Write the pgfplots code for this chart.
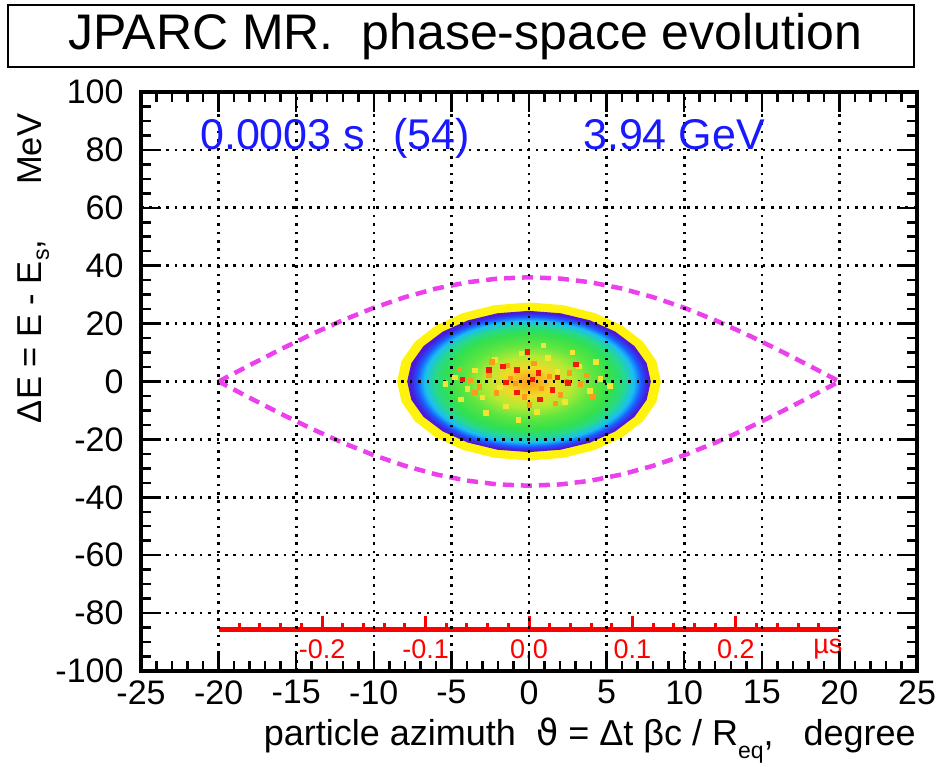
\documentclass[border=0pt]{standalone}
\usepackage{pgfplots}
\pgfplotsset{compat=1.18}
\usepackage{fontspec}
\setmainfont{Liberation Sans}
\newfontfamily\dejavu{DejaVu Sans}
\definecolor{sepmag}{rgb}{0.93,0.25,0.93}
\definecolor{ttblue}{rgb}{0.1,0.1,1}
\definecolor{beamyellow}{rgb}{1,0.95,0.05}
\definecolor{speckred}{rgb}{0.95,0.1,0.05}
\definecolor{speckorange}{rgb}{1,0.6,0.1}
\definecolor{speckyellow}{rgb}{0.95,0.9,0.2}
\pgfdeclareradialshading{beam}{\pgfpoint{0bp}{0bp}}{%
 rgb(0bp)=(1,0.6,0.1); rgb(5bp)=(0.95,0.85,0.15); rgb(9bp)=(0.7,0.92,0.2);
 rgb(13bp)=(0.38,0.9,0.25); rgb(17bp)=(0.2,0.88,0.3); rgb(19.5bp)=(0.15,0.85,0.55);
 rgb(21.5bp)=(0.1,0.75,0.95); rgb(23bp)=(0.1,0.35,1); rgb(24.3bp)=(0.3,0.1,0.85);
 rgb(25bp)=(0.3,0.1,0.85); rgb(50bp)=(0.3,0.1,0.85)}
\begin{document}
\begin{tikzpicture}
\path[use as bounding box] (-141bp,-96bp) rectangle (800bp,671bp);
\begin{axis}[
 scale only axis, width=776bp, height=579bp,
 xmin=-25, xmax=25, ymin=-100, ymax=100,
 xtick={-25,-20,...,25}, ytick={-100,-80,...,100},
 minor x tick num=4, minor y tick num=3,
 tick align=inside, tick pos=both,
 major tick length=20bp, minor tick length=10bp,
 tick style={black, line width=2.5bp},
 axis line style={line width=3.5bp},
 grid=major,
 major grid style={black, line width=2.6bp, dash pattern=on 2.6bp off 5.8bp},
 axis on top,
 tick label style={font=\fontsize{34bp}{38bp}\selectfont},
 /pgf/number format/assume math mode=true,
 xticklabel style={yshift=-6bp},
 yticklabel style={xshift=-14bp},
]
% beam outline (yellow)
\addplot[draw=none, fill=beamyellow] coordinates {
(8.5,0) (8.21,7.065) (7.361,13.65) (6.01,19.3) (4.25,23.64) (2.2,26.37) (0,27.3)
(-2.2,26.37) (-4.25,23.64) (-6.01,19.3) (-7.361,13.65) (-8.21,7.065) (-8.5,0)
(-8.21,-7.065) (-7.361,-13.65) (-6.01,-19.3) (-4.25,-23.64) (-2.2,-26.37) (0,-27.3)
(2.2,-26.37) (4.25,-23.64) (6.01,-19.3) (7.361,-13.65) (8.21,-7.065)} -- cycle;
% beam density
\addplot[draw=none, shade, shading=beam] coordinates {
(7.85,0) (7.582,6.315) (6.798,12.2) (5.551,17.25) (3.925,21.13) (2.032,23.57) (0,24.4)
(-2.032,23.57) (-3.925,21.13) (-5.551,17.25) (-6.798,12.2) (-7.582,6.315) (-7.85,0)
(-7.582,-6.315) (-6.798,-12.2) (-5.551,-17.25) (-3.925,-21.13) (-2.032,-23.57) (0,-24.4)
(2.032,-23.57) (3.925,-21.13) (5.551,-17.25) (6.798,-12.2) (7.582,-6.315)} -- cycle;
% histogram specks
\addplot[only marks, mark=square*, mark size=2.2bp, speckyellow, mark options={draw=none}] coordinates {
(-4.8,1.5) (-4.0,-2.5) (-3.5,3.8) (-3.0,-5.5) (-2.2,7.5) (-1.5,-8.5) (-0.5,9.8) (0.5,-10.5)
(1.2,8.2) (2.3,-7.0) (3.2,5.2) (3.9,-3.2) (4.6,1.0) (5.2,-1.5) (-5.4,-0.8) (2.8,10.2)
(-2.8,-10.8) (1.8,3.5) (-1.9,-1.9) (0.9,12.5) (-0.7,-13.2) (4.3,6.8) (-4.4,-6.2)};
\addplot[only marks, mark=square*, mark size=2.2bp, speckorange, mark options={draw=none}] coordinates {
(-3.8,0.4) (-3.2,-1.8) (-2.6,2.4) (-2.1,-3.9) (-1.4,5.6) (-0.9,-0.6) (-0.3,-5.2) (0.3,6.4)
(0.8,-2.4) (1.3,1.8) (2.0,-4.6) (2.6,3.0) (3.3,-0.8) (3.7,2.2) (-1.2,1.2) (0.0,-8.0)
(1.7,-7.4) (-2.4,6.9) (2.4,0.2) (-3.5,-3.6) (4.1,-5.0) (-4.5,4.2)};
\addplot[only marks, mark=square*, mark size=2.2bp, speckred, mark options={draw=none}] coordinates {
(-2.6,4.1) (-0.8,4.1) (0.2,0.7) (1.5,-2.8) (-0.8,-3.8) (0.6,3.1) (1.8,1.4) (-1.7,5.2)
(3.0,5.9) (-4.3,0.7) (-0.1,10.3) (0.7,-6.2) (-1.5,-0.2) (2.5,-0.4)};
% separatrix
\addplot[sepmag, line width=4.5bp, dash pattern=on 11bp off 7bp] coordinates {
(-20,0) (-18,5.63) (-16,11.12) (-14,16.34) (-12,21.16) (-10,25.46) (-8,29.12) (-6,32.08)
(-4,34.24) (-2,35.56) (0,36) (2,35.56) (4,34.24) (6,32.08) (8,29.12) (10,25.46) (12,21.16)
(14,16.34) (16,11.12) (18,5.63) (20,0) (18,-5.63) (16,-11.12) (14,-16.34) (12,-21.16)
(10,-25.46) (8,-29.12) (6,-32.08) (4,-34.24) (2,-35.56) (0,-36) (-2,-35.56) (-4,-34.24)
(-6,-32.08) (-8,-29.12) (-10,-25.46) (-12,-21.16) (-14,-16.34) (-16,-11.12) (-18,-5.63) (-20,0)};
% time axis (microseconds)
\addplot[red, line width=5bp] coordinates {(-20,-85.8) (20,-85.8)};
\addplot[red, line width=3bp, unbounded coords=jump] coordinates {
(-18.667,-85.8)(-18.667,-83.3)(-18.667,nan)
(-17.333,-85.8)(-17.333,-83.3)(-17.333,nan)
(-16,-85.8)(-16,-83.3)(-16,nan)
(-14.667,-85.8)(-14.667,-83.3)(-14.667,nan)
(-12,-85.8)(-12,-83.3)(-12,nan)
(-10.667,-85.8)(-10.667,-83.3)(-10.667,nan)
(-9.333,-85.8)(-9.333,-83.3)(-9.333,nan)
(-8,-85.8)(-8,-83.3)(-8,nan)
(-5.333,-85.8)(-5.333,-83.3)(-5.333,nan)
(-4,-85.8)(-4,-83.3)(-4,nan)
(-2.667,-85.8)(-2.667,-83.3)(-2.667,nan)
(-1.333,-85.8)(-1.333,-83.3)(-1.333,nan)
(1.333,-85.8)(1.333,-83.3)(1.333,nan)
(2.667,-85.8)(2.667,-83.3)(2.667,nan)
(4,-85.8)(4,-83.3)(4,nan)
(5.333,-85.8)(5.333,-83.3)(5.333,nan)
(8,-85.8)(8,-83.3)(8,nan)
(9.333,-85.8)(9.333,-83.3)(9.333,nan)
(10.667,-85.8)(10.667,-83.3)(10.667,nan)
(12,-85.8)(12,-83.3)(12,nan)
(14.667,-85.8)(14.667,-83.3)(14.667,nan)
(16,-85.8)(16,-83.3)(16,nan)
(17.333,-85.8)(17.333,-83.3)(17.333,nan)
(18.667,-85.8)(18.667,-83.3)(18.667,nan)
(-13.333,-85.8)(-13.333,-81)(-13.333,nan)
(-6.667,-85.8)(-6.667,-81)(-6.667,nan)
(0,-85.8)(0,-81)(0,nan)
(6.667,-85.8)(6.667,-81)(6.667,nan)
(13.333,-85.8)(13.333,-81)};
\begin{scope}[every node/.style={red, font=\fontsize{27bp}{30bp}\selectfont, inner sep=0pt}]
\node at (axis cs:-13.333,-92.4) {-0.2};
\node at (axis cs:-6.667,-92.4) {-0.1};
\node at (axis cs:0,-92.4) {0.0};
\node at (axis cs:6.667,-92.4) {0.1};
\node at (axis cs:13.333,-92.4) {0.2};
\node[anchor=east] at (axis cs:20.2,-92.4) {µs};
\end{scope}
\end{axis}
% title box
\draw[line width=2bp, fill=white] (-133bp,604bp) rectangle (773bp,666bp);
\node[anchor=base west, inner sep=0pt, font=\fontsize{50bp}{56bp}\selectfont] at (-73bp,621bp) {JPARC MR.\ \ phase-space evolution};
% blue info text
\begin{scope}[every node/.style={anchor=base west, inner sep=0pt, text=ttblue, font=\fontsize{43bp}{48bp}\selectfont}]
\node at (59bp,521bp) {0.0003 s};
\node at (252bp,521bp) {(54)};
\node at (442bp,521bp) {3.94 GeV};
\end{scope}
% axis labels
\node[anchor=base east, inner sep=0pt, font=\fontsize{36bp}{42bp}\selectfont] at (775bp,-74bp)
 {particle azimuth\ \ {\dejavu ϑ} = Δt βc / R\raisebox{-13bp}{\fontsize{23bp}{25bp}\selectfont eq},\ \ \ degree};
\node[rotate=90, anchor=base, inner sep=0pt, font=\fontsize{34.5bp}{40bp}\selectfont] at (-99bp,402.5bp)
 {ΔE = E - E\raisebox{-7bp}{\fontsize{23bp}{25bp}\selectfont s},\hspace{55bp}MeV};
\end{tikzpicture}
\end{document}
